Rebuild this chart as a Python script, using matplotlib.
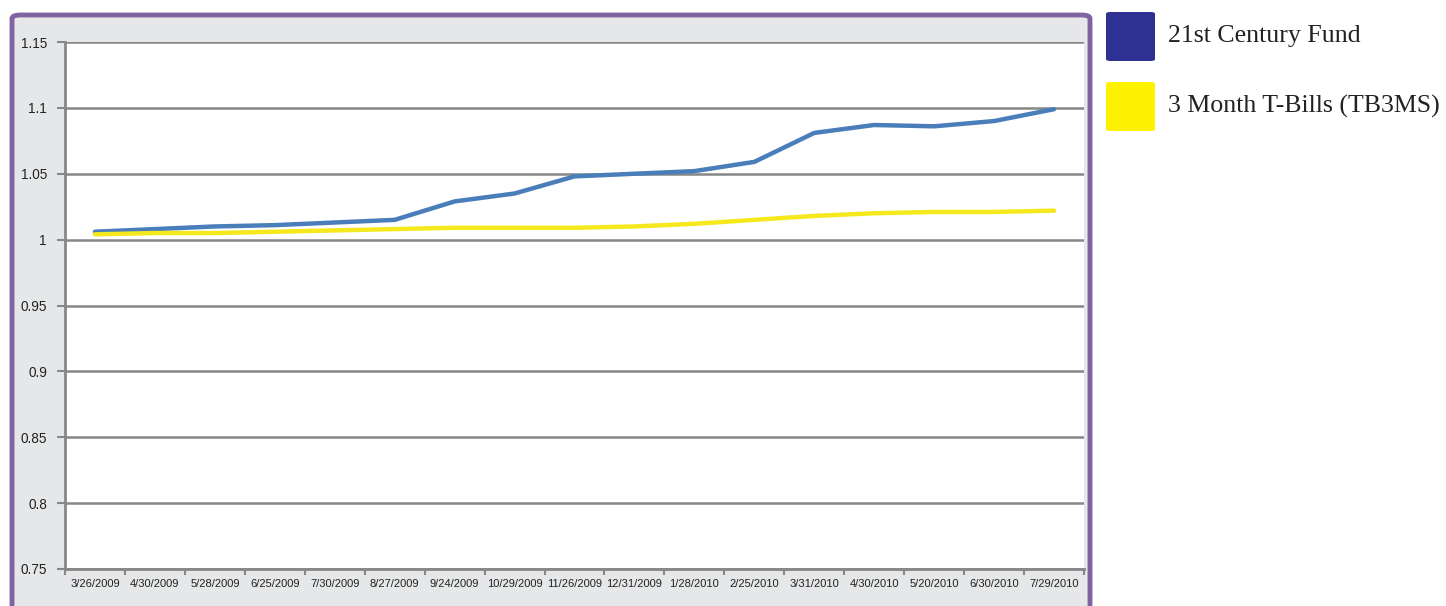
import matplotlib
matplotlib.use("Agg")
import matplotlib.pyplot as plt
from matplotlib.patches import FancyBboxPatch
import numpy as np

dates = ["3/26/2009", "4/30/2009", "5/28/2009", "6/25/2009", "7/30/2009", "8/27/2009",
         "9/24/2009", "10/29/2009", "11/26/2009", "12/31/2009", "1/28/2010", "2/25/2010",
         "3/31/2010", "4/30/2010", "5/20/2010", "6/30/2010", "7/29/2010"]
fund = [1.006, 1.008, 1.010, 1.011, 1.013, 1.015, 1.029, 1.035, 1.048, 1.050, 1.052,
        1.059, 1.081, 1.087, 1.086, 1.090, 1.099]
tbills = [1.004, 1.005, 1.005, 1.006, 1.007, 1.008, 1.009, 1.009, 1.009, 1.010, 1.012,
          1.015, 1.018, 1.020, 1.021, 1.021, 1.022]
yticks = [0.75, 0.8, 0.85, 0.9, 0.95, 1.0, 1.05, 1.1, 1.15]
ytick_labels = ["0.75", "0.8", "0.85", "0.9", "0.95", "1", "1.05", "1.1", "1.15"]
legend_labels = ["21st Century Fund", "3 Month T-Bills (TB3MS)"]

W, H = 1446, 606
fig = plt.figure(figsize=(W / 100, H / 100), dpi=100)
fig.patch.set_facecolor("white")

# chart frame (gray area with purple rounded border)
frame = FancyBboxPatch((12 / W, -20 / H), (1090 - 12) / W, (H - 15 + 20) / H,
                       boxstyle="round,pad=0,rounding_size=0.006",
                       transform=fig.transFigure, facecolor="#e6e7e8",
                       edgecolor="#8064a2", linewidth=3.5, zorder=-5)
fig.patches.append(frame)

ax = fig.add_axes([65 / W, (H - 569) / H, (1084 - 65) / W, (569 - 42) / H])
ax.set_zorder(2)
ax.set_facecolor("white")
x = np.arange(len(dates))
ax.plot(x, fund, color="#4a7ebb", linewidth=3.2, solid_capstyle="round", zorder=3)
ax.plot(x, tbills, color="#f5e81c", linewidth=3.2, solid_capstyle="round", zorder=3)

ax.set_xlim(-0.5, len(dates) - 0.5)
ax.set_ylim(0.75, 1.15)
ax.set_yticks(yticks)
ax.set_yticklabels(ytick_labels, fontsize=9.8, family="Liberation Sans", color="#222222")
ax.set_xticks(x)
ax.set_xticklabels(dates, fontsize=8.0, family="Liberation Sans", color="#222222")
ax.set_xticks(np.arange(len(dates) + 1) - 0.5, minor=True)
ax.tick_params(axis="x", which="major", length=0, pad=7)
ax.tick_params(axis="x", which="minor", length=4, width=1.5, color="#878787", direction="out")
ax.tick_params(axis="y", length=6, width=1.5, color="#878787", direction="out", pad=7)
ax.grid(axis="y", color="#878787", linewidth=1.8, zorder=1)
for side in ["top", "right"]:
    ax.spines[side].set_visible(False)
for side in ["left", "bottom"]:
    ax.spines[side].set_color("#878787")
    ax.spines[side].set_linewidth(2)

# legend
colors = ["#2e3192", "#fff200"]
tops = [12, 82]
for lab, col, top in zip(legend_labels, colors, tops):
    sq = FancyBboxPatch((1106 / W, (H - top - 49) / H), 49 / W, 49 / H,
                        boxstyle="round,pad=0,rounding_size=0.003",
                        transform=fig.transFigure, facecolor=col, edgecolor="none")
    fig.patches.append(sq)
    fig.text(1168 / W, (H - top - 24) / H, lab, fontsize=18.6, family="Liberation Serif",
             color="#222222", va="center", ha="left")

fig.savefig("out.png", dpi=100, facecolor="white")
